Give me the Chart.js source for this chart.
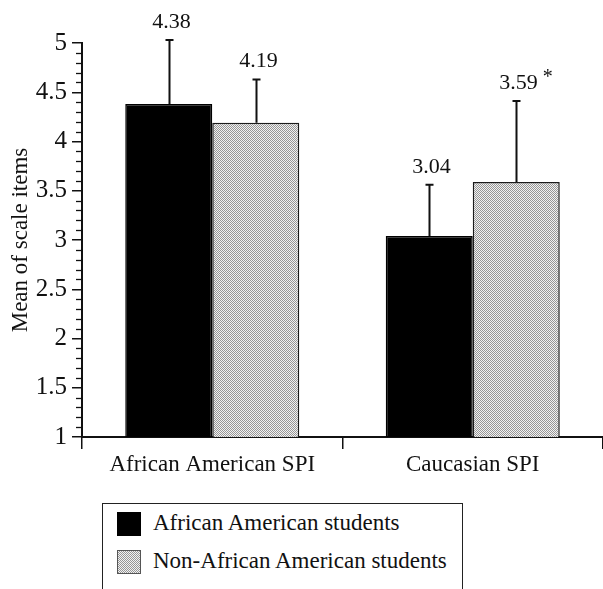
<!DOCTYPE html>
<html>
<head>
<meta charset="utf-8">
<script src="https://cdn.jsdelivr.net/npm/chart.js@4/dist/chart.umd.min.js"></script>
<style>
  html, body { margin: 0; padding: 0; background: #fff; }
  #wrap { position: relative; width: 603px; height: 589px; overflow: hidden; font-family: "Liberation Serif", "DejaVu Serif", serif; color: #111; }
  #chart { position: absolute; left: 0; top: 0; }
  #legend { position: absolute; left: 102px; top: 503px; width: 359px; height: 100px; border: 1.5px solid #222; }
  .item { position: absolute; left: 14px; height: 24px; font-size: 23px; line-height: 24px; white-space: nowrap; }
  .sw { position: absolute; left: 0; top: 0; width: 24px; height: 24px; box-sizing: border-box; }
  .lbl { position: absolute; left: 36px; top: -1px; }
</style>
</head>
<body>
<div id="wrap">
  <canvas id="chart" width="603" height="500"></canvas>
  <div id="legend"></div>
</div>
<script>
'use strict';

// datos
const categories = ['African American SPI', 'Caucasian SPI'];
const groupNames = ['African American students', 'Non-African American students'];
const meansAA = [4.38, 3.04];
const meansNonAA = [4.19, 3.59];
const sdAA = [0.65, 0.52];
const sdNonAA = [0.44, 0.82];
const starsNonAA = [false, true];
const yTicks = [1, 1.5, 2, 2.5, 3, 3.5, 4, 4.5, 5];

const FONT = '"Liberation Serif", "DejaVu Serif", serif';
const INK = '#111';

// relleno gris punteado (tramado 2x2)
function makeGreyPattern() {
  const c = document.createElement('canvas');
  c.width = 2;
  c.height = 2;
  const g = c.getContext('2d');
  g.fillStyle = '#f2f2f2';
  g.fillRect(0, 0, 2, 2);
  g.fillStyle = '#969696';
  g.fillRect(0, 0, 1, 1);
  g.fillRect(1, 1, 1, 1);
  return g.createPattern(c, 'repeat');
}

// marcas menores del eje Y cada 0.1
const minorTicks = {
  id: 'minorTicks',
  afterDraw(chart) {
    const y = chart.scales.y;
    const ctx = chart.ctx;
    ctx.save();
    ctx.strokeStyle = INK;
    ctx.lineWidth = 1.3;
    for (let v = 10; v <= 50; v++) {
      if (v % 5 === 0) continue;
      const py = Math.round(y.getPixelForValue(v / 10)) + 0.5;
      ctx.beginPath();
      ctx.moveTo(y.right - 6, py);
      ctx.lineTo(y.right, py);
      ctx.stroke();
    }
    ctx.restore();
  },
};

// barras de error (solo hacia arriba) y etiquetas de valor
const errorBars = {
  id: 'errorBars',
  afterDatasetsDraw(chart) {
    const ctx = chart.ctx;
    const yScale = chart.scales.y;
    chart.data.datasets.forEach((ds, i) => {
      const meta = chart.getDatasetMeta(i);
      meta.data.forEach((bar, j) => {
        const v = ds.data[j];
        const top = yScale.getPixelForValue(v + ds.sd[j]);
        const x = Math.round(bar.x) + 0.5;
        ctx.save();
        ctx.strokeStyle = INK;
        ctx.lineWidth = 2;
        ctx.beginPath();
        ctx.moveTo(x, bar.y);
        ctx.lineTo(x, top);
        ctx.moveTo(x - 4, top);
        ctx.lineTo(x + 4, top);
        ctx.stroke();

        ctx.fillStyle = INK;
        ctx.font = `22px ${FONT}`;
        ctx.textAlign = 'center';
        ctx.textBaseline = 'alphabetic';
        const label = v.toFixed(2);
        const lx = x + 2;
        const ly = top - 12;
        ctx.fillText(label, lx, ly);
        if (ds.stars && ds.stars[j]) {
          const w = ctx.measureText(label).width;
          ctx.font = `20px ${FONT}`;
          ctx.fillText('*', lx + w / 2 + 10, ly - 6);
        }
        ctx.restore();
      });
    });
  },
};

const greyFill = makeGreyPattern();

new Chart(document.getElementById('chart'), {
  type: 'bar',
  data: {
    labels: categories,
    datasets: [
      {
        label: groupNames[0],
        data: meansAA,
        sd: sdAA,
        backgroundColor: '#000',
        borderColor: '#000',
        borderWidth: 1.5,
      },
      {
        label: groupNames[1],
        data: meansNonAA,
        sd: sdNonAA,
        stars: starsNonAA,
        backgroundColor: greyFill,
        borderColor: '#1a1a1a',
        borderWidth: 1.5,
      },
    ],
  },
  options: {
    responsive: false,
    animation: false,
    layout: { padding: { top: 43, right: 0, left: 0, bottom: 0 } },
    plugins: { legend: { display: false }, tooltip: { enabled: false } },
    datasets: { bar: { barPercentage: 1, categoryPercentage: 0.668 } },
    scales: {
      x: {
        grid: { offset: true, drawOnChartArea: false, tickLength: 12, color: INK, lineWidth: 1.5 },
        border: { display: true, color: INK, width: 2 },
        ticks: { color: INK, font: { family: FONT, size: 23 }, padding: 2 },
        afterFit(scale) { scale.height = 63; },
      },
      y: {
        min: 1,
        max: 5,
        afterBuildTicks(scale) { scale.ticks = yTicks.map((v) => ({ value: v })); },
        grid: { drawOnChartArea: false, tickLength: 10, color: INK, lineWidth: 1.5 },
        border: { display: true, color: INK, width: 2 },
        ticks: { color: INK, font: { family: FONT, size: 25 }, padding: 5, callback: (v) => String(v) },
        title: { display: true, text: 'Mean of scale items', color: INK, font: { family: FONT, size: 23 }, padding: 7 },
        afterFit(scale) { scale.width = 82; },
      },
    },
  },
  plugins: [minorTicks, errorBars],
});

// leyenda en recuadro
const legend = document.getElementById('legend');
const swatchBg = ['#000', 'repeating-conic-gradient(#969696 0 25%, #f2f2f2 0 50%) 0 0 / 2px 2px'];
groupNames.forEach((name, i) => {
  const item = document.createElement('div');
  item.className = 'item';
  item.style.top = (8 + i * 38) + 'px';
  const sw = document.createElement('div');
  sw.className = 'sw';
  sw.style.background = swatchBg[i];
  if (i === 1) sw.style.border = '1px solid #555';
  const lbl = document.createElement('span');
  lbl.className = 'lbl';
  lbl.textContent = name;
  item.appendChild(sw);
  item.appendChild(lbl);
  legend.appendChild(item);
});
</script>
</body>
</html>
